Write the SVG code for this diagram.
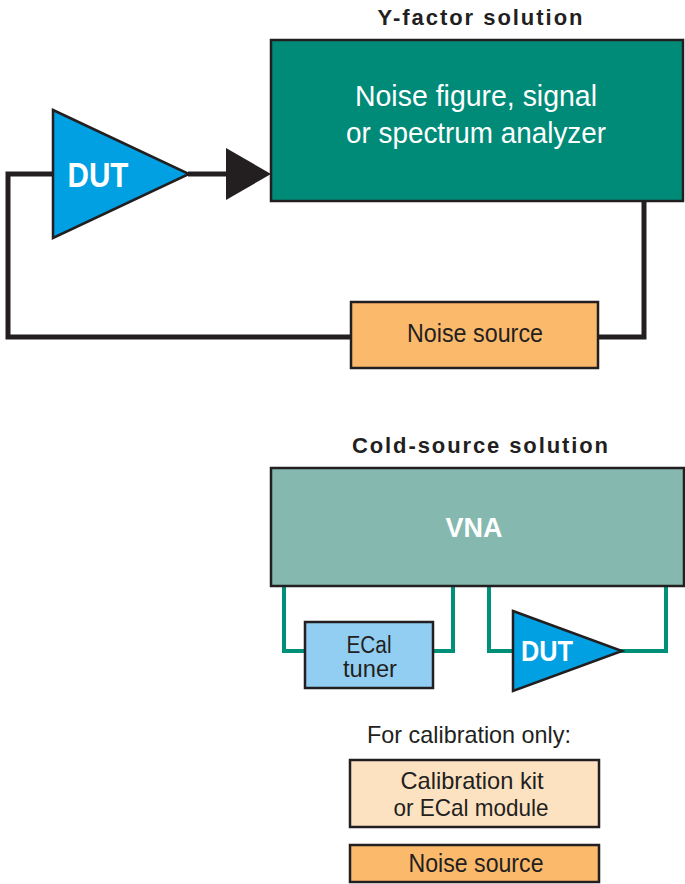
<svg xmlns="http://www.w3.org/2000/svg" width="685" height="884" viewBox="0 0 685 884">
<style>
.t{font-family:"Liberation Sans",Arial,sans-serif;text-anchor:middle}
.b{font-weight:bold}
.w{fill:#ffffff}
.k{fill:#231f20}
.box{stroke:#231f20;stroke-width:2.5}
.blk{fill:none;stroke:#231f20;stroke-width:5;stroke-linejoin:miter}
.grn{fill:none;stroke:#009079;stroke-width:4;stroke-linejoin:miter}
</style>
<rect width="685" height="884" fill="#ffffff"/>
<text class="t b k" x="480" y="25" font-size="22" textLength="205" lengthAdjust="spacing">Y-factor solution</text>
<g id="connectors">
<polyline class="blk" points="55,174 8,174 8,337 352,337"/>
<polyline class="blk" points="597,337 644,337 644,201"/>
<line class="blk" x1="188" y1="174" x2="230" y2="174"/>
<polygon points="226,148 271,174 226,200" fill="#231f20"/>
<polyline class="grn" points="284,586 284,651 306,651"/>
<polyline class="grn" points="432,651 453,651 453,586"/>
<polyline class="grn" points="489,586 489,651 514,651"/>
<polyline class="grn" points="620,651 666,651 666,586"/>
</g>
<g id="analyzer">
<rect class="box" x="271" y="40" width="412" height="161" fill="#008a78"/>
<text class="t w" x="476" y="106" font-size="29" textLength="242" lengthAdjust="spacingAndGlyphs">Noise figure, signal</text>
<text class="t w" x="476" y="143" font-size="29" textLength="260" lengthAdjust="spacingAndGlyphs">or spectrum analyzer</text>
</g>
<g id="dut1">
<polygon class="box" points="53,110 189,174 53,238" fill="#00a0e2"/>
<text class="t b w" x="98" y="187" font-size="35" textLength="61" lengthAdjust="spacingAndGlyphs">DUT</text>
</g>
<g id="noise1">
<rect class="box" x="351" y="302" width="247" height="66" fill="#fbb96c"/>
<text class="t k" x="475" y="342" font-size="25" textLength="136" lengthAdjust="spacingAndGlyphs">Noise source</text>
</g>
<text class="t b k" x="480" y="453" font-size="22" textLength="256" lengthAdjust="spacing">Cold-source solution</text>
<g id="vna">
<rect class="box" x="271" y="468" width="413" height="118" fill="#85b8ae"/>
<text class="t b w" x="474" y="537" font-size="28" textLength="57" lengthAdjust="spacingAndGlyphs">VNA</text>
</g>
<g id="ecal">
<rect class="box" x="305" y="622" width="128" height="66" fill="#92cef2"/>
<text class="t k" x="369" y="653" font-size="23" textLength="45" lengthAdjust="spacingAndGlyphs">ECal</text>
<text class="t k" x="370" y="677" font-size="23" textLength="54" lengthAdjust="spacingAndGlyphs">tuner</text>
</g>
<g id="dut2">
<polygon class="box" points="513,611 622,651 513,691" fill="#00a0e2"/>
<text class="t b w" x="547" y="661" font-size="29" textLength="52" lengthAdjust="spacingAndGlyphs">DUT</text>
</g>
<text class="t k" x="469" y="743" font-size="24" textLength="204" lengthAdjust="spacingAndGlyphs">For calibration only:</text>
<g id="calkit">
<rect class="box" x="350" y="760" width="249" height="67" fill="#fde2c2"/>
<text class="t k" x="472" y="789" font-size="24" textLength="143" lengthAdjust="spacingAndGlyphs">Calibration kit</text>
<text class="t k" x="471" y="816" font-size="24" textLength="155" lengthAdjust="spacingAndGlyphs">or ECal module</text>
</g>
<g id="noise2">
<rect class="box" x="350" y="845" width="249" height="37" fill="#fbb96c"/>
<text class="t k" x="476" y="872" font-size="25" textLength="135" lengthAdjust="spacingAndGlyphs">Noise source</text>
</g>
</svg>
